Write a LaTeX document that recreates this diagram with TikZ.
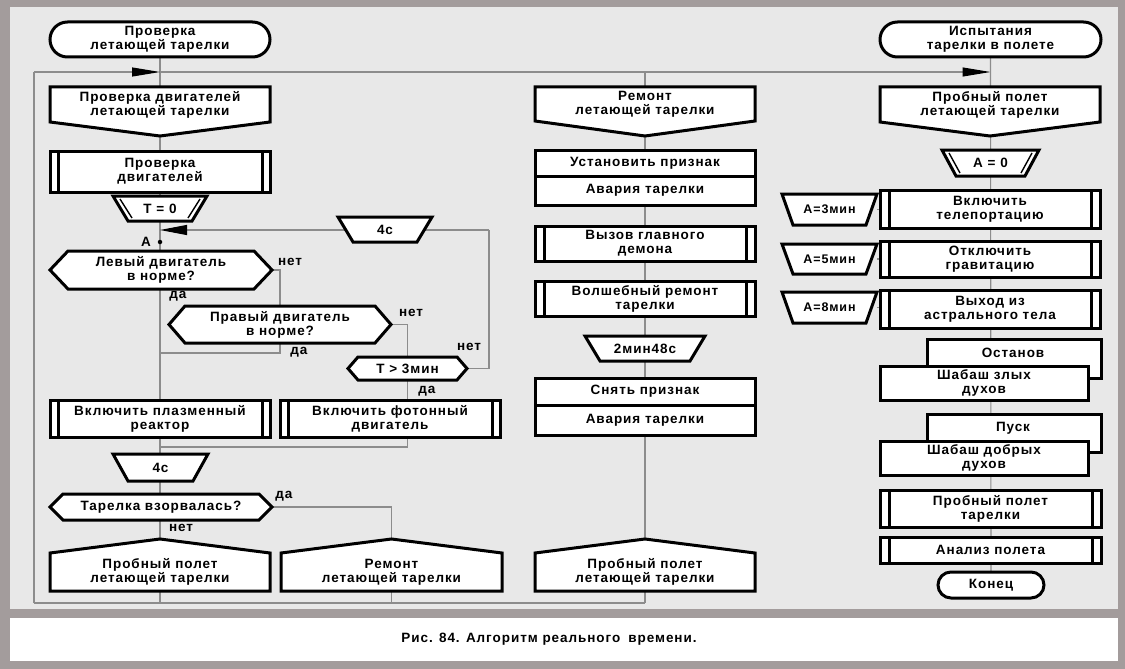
\documentclass[tikz,border=0pt]{standalone}
\usepackage{fontspec}
\newfontfamily\lsans{Liberation Sans}[LetterSpace=7]
\newcommand\dfont{\lsans\bfseries\fontsize{13.5}{14}\selectfont}
\newcommand\sfontx{\lsans\bfseries\fontsize{12.5}{14}\selectfont}
\usetikzlibrary{calc,arrows.meta}
\pgfdeclarelayer{bgl}
\pgfdeclarelayer{midl}
\pgfsetlayers{bgl,midl,main}
\definecolor{framegray}{RGB}{163,156,156}
\definecolor{panel}{RGB}{232,232,232}
\definecolor{conngray}{RGB}{140,140,140}
\tikzset{
  box/.style={inner sep=0pt, outer sep=0pt, align=center, font=\dfont},
  rbox/.style={draw=black, line width=3pt, fill=white},
  dbox/.style={rbox},
  term/.style={rbox, rounded corners=#1},
  term/.default=17.5pt,
  icon/.style={draw=black, line width=3pt, fill=white, line join=miter},
  thinicon/.style={draw=black, line width=1.4pt},
  conn/.style={draw=conngray, line width=1.1pt},
  lbl/.style={inner sep=0pt, font=\dfont},
}
\newcommand\bx[7][]{\node[box,#1,minimum width={#5-#3},minimum height={#6-#4}] (#2) at ({(#3+#5)/2},{(#4+#6)/2}) {#7};}
\newcommand\hexo[2]{\draw[icon] (#1.west) -- ($(#1.north west)+(#2,0)$) -- ($(#1.north east)+(-#2,0)$) -- (#1.east) -- ($(#1.south east)+(-#2,0)$) -- ($(#1.south west)+(#2,0)$) -- cycle;}
\newcommand\hdro[2]{\draw[icon] (#1.north west) -- (#1.north east) -- (#1.south east) -- ($(#1.south)+(0,#2)$) -- (#1.south west) -- cycle;}
\newcommand\addro[2]{\draw[icon] (#1.south west) -- (#1.north west) -- ($(#1.north)+(0,-#2)$) -- (#1.north east) -- (#1.south east) -- cycle;}
\newcommand\trapo[2]{\draw[icon] (#1.north west) -- (#1.north east) -- ($(#1.south east)+(-#2,0)$) -- ($(#1.south west)+(#2,0)$) -- cycle;}
\newcommand\timo[2]{\trapo{#1}{#2}
  \draw[thinicon] ($(#1.north west)+(7,3)$) -- ($(#1.south west)+(#2+4,-3)$);
  \draw[thinicon] ($(#1.north east)+(-7,3)$) -- ($(#1.south east)+(-#2-4,-3)$);}
\newcommand\dbl[2]{\draw[line width=3pt] ($(#1.north west)+(#2,0)$) -- ($(#1.south west)+(#2,0)$) ($(#1.north east)+(-#2,0)$) -- ($(#1.south east)+(-#2,0)$);}
\begin{document}
\begin{tikzpicture}[x=1pt,y=-1pt]
\useasboundingbox (0,0) rectangle (1125,669);
\begin{pgfonlayer}{bgl}
\fill[framegray] (0,0) rectangle (1125,669);
\fill[panel] (10,7) rectangle (1118,609);
\fill[white] (10,618) rectangle (1118,661);
\end{pgfonlayer}

% ---------- left branch ----------
\bx[term]{t1}{50}{22}{270}{57}{Проверка\\летающей тарелки}
\bx{h1}{50}{87}{270}{122}{Проверка двигателей\\летающей тарелки}
\bx[dbox]{p1}{50}{151}{270}{192}{Проверка\\двигателей}
\dbl{p1}{8}
\bx{tm1}{113}{196}{207}{221}{T = 0}
\bx{p4a}{338}{217}{432}{242}{4с}
\bx{qa}{50}{251}{272}{289}{Левый двигатель\\в норме?}
\bx{qb}{169}{306}{391}{343}{Правый двигатель\\в норме?}
\bx{qc}{348}{357}{467}{380}{T > 3мин}
\bx[dbox]{b1}{50}{400}{270}{437}{Включить плазменный\\реактор}
\dbl{b1}{8}
\bx[dbox]{b2}{280}{400}{500}{437}{Включить фотонный\\двигатель}
\dbl{b2}{8}
\bx{p4b}{113}{454}{208}{481}{4с}
\bx{qd}{50}{494}{272}{520}{Тарелка взорвалась?}
\bx{a1}{50}{553}{270}{591}{Пробный полет\\летающей тарелки}
\bx{a2}{281}{553}{502}{591}{Ремонт\\летающей тарелки}

% ---------- middle branch ----------
\bx{h2}{535}{87}{755}{121}{Ремонт\\летающей тарелки}
\bx[rbox]{f1a}{535}{150}{755}{176}{Установить признак}
\bx[rbox]{f1b}{535}{176}{755}{205}{Авария тарелки}
\bx[dbox]{c1}{535}{226}{755}{261}{Вызов главного\\демона}
\dbl{c1}{9}
\bx[dbox]{c2}{535}{281}{755}{316}{Волшебный ремонт\\тарелки}
\dbl{c2}{9}
\bx{p2}{585}{336}{705}{361}{2мин48с}
\bx[rbox]{f2a}{535}{378}{755}{405}{Снять признак}
\bx[rbox]{f2b}{535}{405}{755}{435}{Авария тарелки}
\bx{a3}{535}{553}{755}{591}{Пробный полет\\летающей тарелки}

% ---------- right branch ----------
\bx[term]{t2}{880}{22}{1101}{57}{Испытания\\тарелки в полете}
\bx{h3}{880}{87}{1100}{122}{Пробный полет\\летающей тарелки}
\bx{tm2}{942}{150}{1039}{176}{A = 0}
\bx[dbox]{r1}{880}{190}{1100}{228}{Включить\\телепортацию}
\dbl{r1}{9}
\bx[font=\sfontx]{s1}{782}{194}{877}{225}{A=3мин}
\bx[dbox]{r2}{880}{241}{1100}{277}{Отключить\\гравитацию}
\dbl{r2}{9}
\bx[font=\sfontx]{s2}{782}{244}{877}{274}{A=5мин}
\bx[dbox]{r3}{880}{290}{1100}{328}{Выход из\\астрального тела}
\dbl{r3}{9}
\bx[font=\sfontx]{s3}{782}{292}{877}{323}{A=8мин}
\bx[rbox]{y1}{927}{339}{1101}{378}{}
\node[lbl] (y1t) at (1013,353) {Останов};
\bx[rbox]{y1f}{880}{366}{1088}{400}{Шабаш злых\\духов}
\bx[rbox]{y2}{927}{414}{1101}{452}{}
\node[lbl] (y2t) at (1013,428) {Пуск};
\bx[rbox]{y2f}{880}{441}{1088}{475}{Шабаш добрых\\духов}
\bx[dbox]{r4}{880}{490}{1101}{527}{Пробный полет\\тарелки}
\dbl{r4}{9}
\bx[dbox]{r5}{880}{537}{1101}{563}{Анализ полета}
\dbl{r5}{9}
\bx[term=13pt]{t3}{938}{572}{1044}{598}{Конец}

% ---------- labels ----------
\node[circle, fill=black, inner sep=0pt, minimum size=4.5pt] (adot) at (160,242) {};
\node[lbl] (alab) at (146,242) {A};
\node[lbl] (qan) at (290,262) {нет};
\node[lbl] (qay) at (178,296) {да};
\node[lbl] (qbn) at (411,313) {нет};
\node[lbl] (qby) at (299,352) {да};
\node[lbl] (qcn) at (469,347) {нет};
\node[lbl] (qcy) at (427,391) {да};
\node[lbl] (qdy) at (284,496) {да};
\node[lbl] (qdn) at (181,528) {нет};
\node[lbl] (cap) at (549,639) {Рис. 84. Алгоритм реального\hspace{0.6em}времени.};

% ---------- icon outlines ----------
\begin{pgfonlayer}{midl}
\hdro{h1}{14}
\timo{tm1}{15}
\trapo{p4a}{15}
\hexo{qa}{18}
\hexo{qb}{16}
\hexo{qc}{10}
\trapo{p4b}{15}
\hexo{qd}{13}
\addro{a1}{14}
\addro{a2}{14}
\hdro{h2}{15}
\trapo{p2}{15}
\addro{a3}{14}
\hdro{h3}{14}
\timo{tm2}{14}
\trapo{s1}{11}
\trapo{s2}{11}
\trapo{s3}{11}
\end{pgfonlayer}

% ---------- connectors ----------
\begin{pgfonlayer}{bgl}
\coordinate (LL) at (34,603);
\coordinate (LT) at (34,72);
\coordinate (J1) at (160,353);
\coordinate (J2) at (160,447);
\coordinate (K) at (489,230);
\coordinate (A0) at (160,230);
\draw[conn] (t1.south) -- (t1.south |- LL);
\draw[conn] (LL) -- (LT);
\draw[conn,-{Triangle[length=28pt,width=9pt,color=black]}] (LT) -- (LT -| t1.south);
\draw[conn,-{Triangle[length=28pt,width=9pt,color=black]}] (LT -| t1.south) -- (LT -| t2.south);
\draw[conn] (LT -| h2.north) -- (LL -| h2.north);
\draw[conn] (LL) -- (LL -| h2.north);
\draw[conn] (t2.south) -- (t3.north);
\draw[conn] (qa.east) -| (qb.north);
\draw[conn] (qb.south) |- (J1);
\draw[conn] (qb.east) -| (qc.north);
\draw[conn] (qc.south) |- (J2);
\draw[conn] (qc.east) -| (K);
\draw[conn,-{Triangle[length=27pt,width=10pt,color=black]}] (K) -- (A0);
\draw[conn] (qd.east) -| (a2.north);
\draw[conn] (a2.south) -- (a2.south |- LL);
\draw[conn] (s1.east) -- (s1.east -| r1.west);
\draw[conn] (s2.east) -- (s2.east -| r2.west);
\draw[conn] (s3.east) -- (s3.east -| r3.west);
\end{pgfonlayer}
\end{tikzpicture}
\end{document}
